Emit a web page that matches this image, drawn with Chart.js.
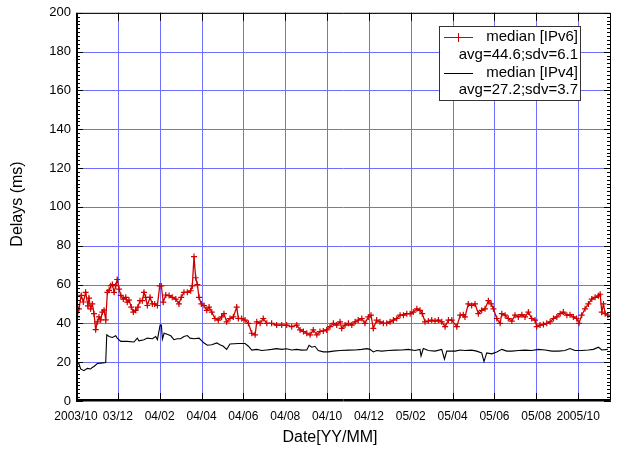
<!DOCTYPE html>
<html>
<head>
<meta charset="utf-8">
<title>Delays</title>
<script src="https://cdn.jsdelivr.net/npm/chart.js@4/dist/chart.umd.min.js"></script>
<style>
  html, body { margin: 0; padding: 0; background: #ffffff; }
  canvas { display: block; }
</style>
</head>
<body>
<canvas id="delayChart" width="630" height="455"></canvas>
<script>
// Tick labels every two months, starting at 2003/10
const monthLabels = ['2003/10', '03/12', '04/02', '04/04', '04/06', '04/08', '04/10',
                     '04/12', '05/02', '05/04', '05/06', '05/08', '2005/10'];

// x values are months elapsed since 2003/10
const ipv6Months = [0.05, 0.14, 0.25, 0.35, 0.46, 0.57, 0.62, 0.70, 0.78, 0.86, 0.94, 1.02, 1.10, 1.18,
  1.26, 1.34, 1.42, 1.50, 1.58, 1.66, 1.74, 1.82, 1.90, 1.97, 2.06, 2.14, 2.26, 2.38, 2.45, 2.53,
  2.64, 2.74, 2.85, 2.96, 3.06, 3.17, 3.25, 3.33, 3.41, 3.54, 3.65, 3.76, 3.89, 4.00, 4.08, 4.17,
  4.29, 4.45, 4.60, 4.77, 4.92, 5.03, 5.16, 5.32, 5.48, 5.56, 5.64, 5.72, 5.80, 5.88, 5.99, 6.12,
  6.25, 6.36, 6.49, 6.64, 6.80, 6.96, 7.07, 7.20, 7.36, 7.52, 7.68, 7.76, 7.92, 8.08, 8.24, 8.40,
  8.56, 8.64, 8.80, 8.95, 9.12, 9.35, 9.59, 9.83, 10.07, 10.31, 10.55, 10.71, 10.87, 11.03, 11.19,
  11.34, 11.51, 11.66, 11.82, 11.98, 12.14, 12.30, 12.46, 12.62, 12.70, 12.86, 13.02, 13.18, 13.34,
  13.49, 13.66, 13.81, 13.97, 14.10, 14.21, 14.37, 14.53, 14.69, 14.85, 15.01, 15.17, 15.33, 15.49,
  15.65, 15.81, 15.97, 16.12, 16.29, 16.44, 16.55, 16.68, 16.84, 17.00, 17.16, 17.32, 17.48, 17.64,
  17.80, 17.96, 18.20, 18.36, 18.51, 18.59, 18.75, 18.91, 19.07, 19.23, 19.39, 19.55, 19.71, 19.84,
  19.95, 20.11, 20.27, 20.35, 20.51, 20.66, 20.83, 20.98, 21.14, 21.31, 21.46, 21.62, 21.78, 21.94,
  22.02, 22.18, 22.34, 22.50, 22.66, 22.82, 22.98, 23.14, 23.29, 23.46, 23.61, 23.77, 23.93, 24.04,
  24.17, 24.33, 24.49, 24.65, 24.81, 24.97, 25.05, 25.13, 25.21, 25.29, 25.42];
const ipv6Delay = [43.3, 47.5, 54.4, 51.0, 56.0, 49.0, 53.0, 47.5, 50.0, 45.0, 36.8, 40.8, 43.3, 41.8,
  45.8, 46.8, 41.8, 56.0, 57.0, 59.4, 60.0, 56.0, 59.4, 62.6, 57.6, 54.4, 52.5, 53.4, 50.9, 52.0,
  48.4, 45.8, 46.7, 48.4, 51.7, 51.7, 56.0, 53.4, 49.2, 53.4, 50.0, 50.0, 49.2, 59.3, 59.3, 50.9,
  54.6, 54.3, 53.4, 52.5, 50.0, 53.4, 56.0, 56.0, 56.8, 59.3, 74.4, 63.5, 60.0, 53.4, 50.0, 49.2,
  46.7, 48.4, 45.8, 42.5, 41.7, 43.3, 45.0, 40.8, 42.5, 43.3, 48.4, 42.5, 42.5, 41.7, 40.0, 34.9,
  34.1, 40.8, 40.0, 42.5, 40.0, 40.0, 39.1, 39.1, 39.1, 38.3, 39.1, 36.6, 35.8, 34.9, 34.1,
  36.6, 34.1, 35.8, 36.1, 36.6, 38.3, 40.0, 39.1, 40.8, 37.4, 39.1, 40.0, 39.1, 40.8,
  41.7, 42.5, 40.0, 43.3, 44.2, 37.4, 41.7, 40.8, 40.0, 40.0, 40.8, 41.7, 42.5, 44.2,
  44.2, 45.0, 45.0, 45.8, 47.5, 46.7, 45.0, 40.8, 41.2, 41.7, 41.2, 41.7, 40.8, 38.3,
  41.7, 41.7, 38.3, 44.2, 44.5, 43.3, 50.0, 49.2, 50.0, 45.0, 46.7, 47.5, 51.7, 50.0,
  47.5, 42.5, 40.0, 45.0, 44.2, 42.5, 41.2, 44.2, 43.3, 44.5, 43.3, 45.8, 42.5, 41.7,
  38.3, 39.1, 39.4, 40.0, 40.8, 42.5, 43.3, 45.0, 45.8, 44.2, 44.5, 43.3, 42.5, 40.0,
  44.2, 47.5, 50.0, 52.5, 53.4, 54.2, 55.0, 45.8, 50.0, 45.0, 44.2];

const ipv4Months = [0.02, 0.06, 0.14, 0.22, 0.38, 0.54, 0.70, 0.78, 0.86, 1.02, 1.18, 1.42, 1.47, 1.58,
  1.74, 1.90, 1.97, 2.14, 2.45, 2.77, 2.93, 3.01, 3.25, 3.41, 3.65, 3.81, 3.89, 4.02, 4.08, 4.13,
  4.21, 4.36, 4.53, 4.68, 4.84, 5.00, 5.16, 5.32, 5.45, 5.64, 5.88, 6.01, 6.12, 6.28, 6.49, 6.73,
  6.88, 7.04, 7.20, 7.36, 7.76, 8.08, 8.24, 8.40, 8.64, 8.88, 9.12, 9.35, 9.59, 9.83, 10.07, 10.31,
  10.55, 10.79, 11.03, 11.14, 11.27, 11.42, 11.58, 11.82, 12.06, 12.30, 12.62, 13.02, 13.34, 13.66,
  13.90, 14.05, 14.21, 14.37, 14.61, 14.93, 15.25, 15.57, 15.88, 16.20, 16.44, 16.49, 16.60, 16.84,
  17.16, 17.48, 17.61, 17.72, 18.12, 18.36, 18.59, 18.91, 19.15, 19.39, 19.50, 19.63, 19.87, 20.11,
  20.35, 20.59, 20.83, 21.14, 21.46, 21.78, 22.10, 22.42, 22.74, 23.06, 23.37, 23.61, 23.85, 24.17,
  24.49, 24.73, 24.97, 25.13, 25.42];
const ipv4Delay = [16.5, 19.0, 19.3, 16.5, 15.6, 16.8, 16.5, 17.3, 17.8, 19.3, 19.5, 19.8, 34.1, 33.2,
  32.7, 33.6, 32.4, 30.7, 30.7, 30.4, 32.4, 31.0, 31.6, 32.4, 32.1, 33.2, 31.6, 39.1, 39.1, 31.9,
  34.9, 34.4, 33.6, 31.6, 32.1, 32.1, 33.2, 33.7, 32.4, 32.1, 32.4, 31.0, 29.9, 28.7, 29.0, 29.9,
  29.0, 28.2, 26.6, 29.4, 29.6, 29.6, 28.2, 26.2, 26.6, 26.0, 26.3, 26.6, 27.0, 26.6, 26.9, 26.3,
  26.6, 26.2, 26.3, 28.7, 27.7, 28.2, 26.0, 25.3, 25.3, 25.7, 26.0, 26.2, 26.3, 26.6,
  27.0, 26.6, 25.3, 26.0, 25.7, 26.0, 26.2, 26.3, 26.6, 26.0, 26.6, 23.2, 27.0, 26.0,
  25.7, 26.6, 21.5, 25.7, 25.7, 26.3, 26.0, 26.2, 25.7, 24.8, 20.3, 24.8, 24.3, 25.3,
  26.6, 25.7, 25.7, 26.0, 26.2, 26.0, 26.6, 26.3, 25.7, 25.7, 26.0, 27.0, 26.0, 26.0,
  26.3, 26.6, 27.7, 26.3, 26.6];

const seriesNames = ['median [IPv6]', 'median [IPv4]'];
const seriesStats = ['avg=44.6;sdv=6.1', 'avg=27.2;sdv=3.7'];

const yTicks = [0, 20, 40, 60, 80, 100, 120, 140, 160, 180, 200];

const FONT = '"Liberation Sans", Arial, Helvetica, sans-serif';
const RED = '#d00000';
const GRID = 'rgb(110, 110, 255)';

const zip = (xs, ys) => xs.map((x, i) => ({ x: x, y: ys[i] }));

// Blue grid, drawn on whole pixels under the data
const gridLines = {
  id: 'gridLines',
  beforeDatasetsDraw(chart) {
    const { ctx, chartArea: a, scales: { x, y } } = chart;
    ctx.save();
    ctx.strokeStyle = GRID;
    ctx.lineWidth = 1;
    ctx.beginPath();
    y.ticks.forEach(t => {
      const py = Math.round(y.getPixelForValue(t.value)) + 0.5;
      ctx.moveTo(a.left, py); ctx.lineTo(a.right, py);
    });
    x.ticks.forEach(t => {
      const px = Math.round(x.getPixelForValue(t.value)) + 0.5;
      ctx.moveTo(px, a.top); ctx.lineTo(px, a.bottom);
    });
    ctx.stroke();
    ctx.restore();
  }
};

// Frame, inner tick marks, axis titles and the boxed legend
const decorations = {
  id: 'decorations',
  afterDatasetsDraw(chart) {
    const { ctx, chartArea: a, scales: { x, y } } = chart;
    ctx.save();
    ctx.strokeStyle = '#000';
    ctx.lineWidth = 1;
    ctx.beginPath();
    ctx.rect(a.left + 0.5, a.top + 0.5, a.right - a.left - 1, a.bottom - a.top - 1);
    for (let v = 0; v <= 200; v += 2) {
      const py = Math.round(y.getPixelForValue(v)) + 0.5;
      const len = v % 20 === 0 ? 7 : 4;
      ctx.moveTo(a.left, py); ctx.lineTo(a.left + len, py);
      ctx.moveTo(a.right, py); ctx.lineTo(a.right - len, py);
    }
    x.ticks.forEach(t => {
      const px = Math.round(x.getPixelForValue(t.value)) + 0.5;
      ctx.moveTo(px, a.bottom); ctx.lineTo(px, a.bottom - 8);
      ctx.moveTo(px, a.top); ctx.lineTo(px, a.top + 8);
    });
    ctx.stroke();
    // slightly heavier left and bottom axes
    ctx.beginPath();
    ctx.moveTo(a.left + 1.5, a.top); ctx.lineTo(a.left + 1.5, a.bottom);
    ctx.moveTo(a.left, a.bottom - 1.5); ctx.lineTo(a.right, a.bottom - 1.5);
    ctx.stroke();

    // axis titles
    ctx.fillStyle = '#000';
    ctx.font = '16px ' + FONT;
    ctx.textAlign = 'center';
    ctx.textBaseline = 'middle';
    ctx.fillText('Date[YY/MM]', 330, 438);
    ctx.save();
    ctx.translate(18, 204);
    ctx.rotate(-Math.PI / 2);
    ctx.fillText('Delays (ms)', 0, 0);
    ctx.restore();

    // legend box
    const bx = 439.5, by = 26.5, bw = 141, bh = 74;
    ctx.fillStyle = '#fff';
    ctx.fillRect(bx, by, bw, bh);
    ctx.strokeStyle = '#333';
    ctx.strokeRect(bx, by, bw, bh);
    const rows = [37, 55, 72.5, 90];
    const colors = [RED, '#000'];
    ctx.font = '15px ' + FONT;
    ctx.textAlign = 'right';
    ctx.fillStyle = '#000';
    for (let i = 0; i < 2; i++) {
      const ry = rows[i * 2];
      ctx.strokeStyle = colors[i];
      ctx.lineWidth = 1;
      ctx.beginPath();
      ctx.moveTo(444, Math.round(ry) + 0.5);
      ctx.lineTo(473, Math.round(ry) + 0.5);
      if (i === 0) {
        ctx.moveTo(458.5, ry - 4); ctx.lineTo(458.5, ry + 5);
      }
      ctx.stroke();
      ctx.fillText(seriesNames[i], 578, ry);
      ctx.fillText(seriesStats[i], 578, rows[i * 2 + 1]);
    }
    ctx.restore();
  }
};

new Chart(document.getElementById('delayChart'), {
  type: 'line',
  data: {
    datasets: [
      {
        label: seriesNames[0],
        data: zip(ipv6Months, ipv6Delay),
        borderColor: RED,
        backgroundColor: RED,
        borderWidth: 1.3,
        pointStyle: 'cross',
        pointRadius: 3,
        pointBorderWidth: 1.2,
        pointBorderColor: RED,
        tension: 0,
        fill: false
      },
      {
        label: seriesNames[1],
        data: zip(ipv4Months, ipv4Delay),
        borderColor: '#000',
        borderWidth: 1.1,
        pointRadius: 0,
        tension: 0,
        fill: false
      }
    ]
  },
  options: {
    responsive: false,
    devicePixelRatio: 1,
    animation: false,
    events: [],
    layout: { padding: { left: 0, right: 19, top: 4, bottom: 0 } },
    plugins: { legend: { display: false }, tooltip: { enabled: false }, title: { display: false } },
    scales: {
      x: {
        type: 'linear',
        min: 0,
        max: 25.57,
        afterFit(s) { s.height = 54; },
        afterBuildTicks(s) { s.ticks = monthLabels.map((_, i) => ({ value: i * 2 })); },
        ticks: {
          autoSkip: false,
          maxRotation: 0,
          padding: 8,
          color: '#000',
          font: { family: FONT, size: 12 },
          callback: v => monthLabels[Math.round(v / 2)]
        },
        grid: { display: false, drawTicks: false },
        border: { display: false }
      },
      y: {
        min: 0,
        max: 200,
        afterFit(s) { s.width = 76; },
        afterBuildTicks(s) { s.ticks = yTicks.map(v => ({ value: v })); },
        ticks: {
          padding: 5,
          color: '#000',
          font: { family: FONT, size: 13 }
        },
        grid: { display: false, drawTicks: false },
        border: { display: false }
      }
    }
  },
  plugins: [gridLines, decorations]
});
</script>
</body>
</html>
